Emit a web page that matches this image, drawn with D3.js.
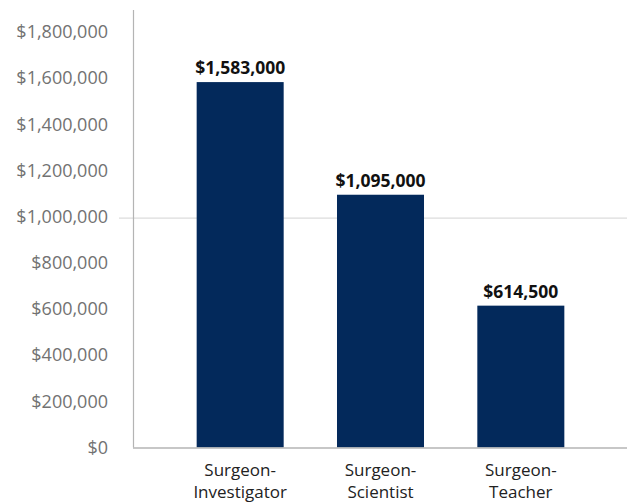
<!DOCTYPE html>
<html>
<head>
<meta charset="utf-8">
<script src="https://cdn.jsdelivr.net/npm/d3@7"></script>
<style>
  html, body { margin: 0; padding: 0; background: #ffffff; }
  svg { display: block; }
</style>
</head>
<body>
<svg id="chart" width="627" height="502"></svg>
<script>
const categories = ["Surgeon-Investigator", "Surgeon-Scientist", "Surgeon-Teacher"];
const categoryLines = [["Surgeon-", "Investigator"], ["Surgeon-", "Scientist"], ["Surgeon-", "Teacher"]];
const values = [1583000, 1095000, 614500];
const valueLabels = ["$1,583,000", "$1,095,000", "$614,500"];
const tickValues = [0, 200000, 400000, 600000, 800000, 1000000, 1200000, 1400000, 1600000, 1800000];
const gridValues = [1000000];

const svg = d3.select("#chart");
const font = "'Open Sans', 'Noto Sans', sans-serif";

const x = d3.scaleBand().domain(categories).range([170, 591]).paddingInner(0.38).paddingOuter(0.19);
const y = d3.scaleLinear().domain([0, 1800000]).range([447.5, 32]);

// gridline
svg.selectAll("line.grid").data(gridValues).enter().append("line")
  .attr("x1", 119).attr("x2", 627)
  .attr("y1", d => y(d) + 1.5).attr("y2", d => y(d) + 1.5)
  .attr("stroke", "#dcdcdc").attr("stroke-width", 1.2);

// y axis
const yAxis = d3.axisLeft(y).tickValues(tickValues).tickSize(0).tickPadding(0)
  .tickFormat(d => "$" + d3.format(",")(d));
const gy = svg.append("g").attr("transform", "translate(108,0)").call(yAxis);
gy.select(".domain").remove();
gy.selectAll("text").attr("font-family", font).attr("font-size", 18).attr("fill", "#727272");

svg.append("line").attr("x1", 133.5).attr("x2", 133.5).attr("y1", 10).attr("y2", y(0))
  .attr("stroke", "#b4b4b4").attr("stroke-width", 1.2);

// bars
svg.selectAll("rect.bar").data(values).enter().append("rect")
  .attr("x", (d, i) => x(categories[i]))
  .attr("width", x.bandwidth())
  .attr("y", d => y(d))
  .attr("height", d => y(0) - y(d))
  .attr("fill", "#03295b");

// baseline
svg.append("line").attr("x1", 133).attr("x2", 627).attr("y1", y(0) + 0.5).attr("y2", y(0) + 0.5)
  .attr("stroke", "#b4b4b4").attr("stroke-width", 1.5);

// value labels
svg.selectAll("text.val").data(values).enter().append("text")
  .attr("x", (d, i) => x(categories[i]) + x.bandwidth() / 2)
  .attr("y", d => y(d) - 8)
  .attr("text-anchor", "middle")
  .attr("font-family", font).attr("font-size", 17.5).attr("font-weight", "bold")
  .attr("fill", "#111")
  .text((d, i) => valueLabels[i]);

// category labels (one text element per line)
categories.forEach((c, i) => {
  categoryLines[i].forEach((ln, j) => {
    svg.append("text")
      .attr("x", x(c) + x.bandwidth() / 2)
      .attr("y", 476 + j * 22)
      .attr("text-anchor", "middle")
      .attr("font-family", font).attr("font-size", 17).attr("fill", "#222")
      .text(ln);
  });
});
</script>
</body>
</html>
